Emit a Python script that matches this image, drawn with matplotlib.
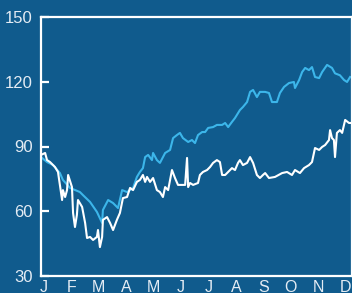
import matplotlib
matplotlib.use("Agg")
import matplotlib.pyplot as plt

# === data (month index, 0 = Jan) ===
blue_x = [-0.11, 0.11, 0.33, 0.58, 0.69, 0.95, 1.31, 1.42, 1.68, 1.93, 2.12, 2.15,
          2.34, 2.52, 2.70, 2.85, 3.03, 3.25, 3.39, 3.50, 3.61, 3.69, 3.80, 3.94,
          3.98, 4.12, 4.23, 4.42, 4.60, 4.71, 4.85, 4.96, 5.07, 5.26, 5.40, 5.51,
          5.62, 5.77, 5.88, 5.99, 6.17, 6.31, 6.50, 6.61, 6.72, 6.86, 6.97, 7.15,
          7.26, 7.41, 7.52, 7.63, 7.77, 7.88, 8.07, 8.21, 8.32, 8.50, 8.61, 8.76,
          8.94, 9.12, 9.16, 9.31, 9.42, 9.53, 9.67, 9.78, 9.89, 10.04, 10.15, 10.33,
          10.51, 10.62, 10.80, 10.95, 11.06, 11.17]
blue_y = [85.1, 82.8, 81.4, 77.7, 74.5, 70.8, 68.9, 67.5, 64.3, 59.7, 54.6, 60.6,
          65.2, 63.8, 61.5, 69.8, 68.9, 70.8, 75.9, 78.2, 80.0, 85.1, 86.1, 83.7,
          87.0, 83.7, 82.4, 87.0, 88.4, 93.9, 95.3, 96.3, 93.9, 92.1, 93.0, 91.6,
          95.3, 96.7, 96.7, 98.6, 99.0, 100.0, 100.0, 100.9, 99.0, 101.4, 103.2, 106.9,
          108.3, 110.6, 115.3, 116.2, 112.9, 115.3, 115.3, 114.8, 110.6, 110.6, 114.8, 117.6,
          119.4, 119.9, 117.1, 120.8, 124.5, 126.4, 125.4, 126.8, 122.2, 121.7, 124.5, 127.8,
          126.4, 123.9, 123.0, 120.8, 119.9, 122.2]

white_x = [-0.11, 0.04, 0.11, 0.22, 0.40, 0.51, 0.66, 0.69, 0.77, 0.84, 0.88, 1.02,
           1.06, 1.13, 1.20, 1.24, 1.39, 1.50, 1.57, 1.68, 1.79, 1.93, 1.97, 2.04,
           2.12, 2.15, 2.30, 2.41, 2.52, 2.66, 2.77, 2.88, 3.03, 3.14, 3.25, 3.39,
           3.50, 3.61, 3.69, 3.76, 3.87, 3.98, 4.12, 4.23, 4.34, 4.42, 4.53, 4.67,
           4.78, 4.89, 5.04, 5.15, 5.22, 5.26, 5.33, 5.44, 5.62, 5.69, 5.80, 5.95,
           6.06, 6.17, 6.31, 6.42, 6.50, 6.61, 6.72, 6.86, 6.97, 7.08, 7.15, 7.26,
           7.41, 7.52, 7.63, 7.77, 7.88, 7.99, 8.07, 8.21, 8.43, 8.69, 8.87, 9.05,
           9.16, 9.34, 9.49, 9.67, 9.78, 9.89, 10.04, 10.15, 10.26, 10.40, 10.44, 10.51,
           10.58, 10.62, 10.69, 10.80, 10.88, 10.99, 11.13, 11.17]
white_y = [86.1, 87.0, 83.7, 82.8, 80.5, 78.2, 65.2, 69.8, 66.6, 69.8, 76.8, 71.2,
           59.2, 52.7, 58.3, 65.2, 62.0, 54.6, 47.6, 48.1, 46.7, 48.1, 51.3, 43.4,
           48.1, 56.0, 57.3, 54.6, 51.3, 56.0, 59.2, 66.1, 66.6, 70.8, 69.8, 73.6,
           74.5, 76.8, 73.6, 75.9, 73.6, 75.4, 69.8, 68.9, 66.6, 71.2, 69.8, 79.1,
           75.4, 72.2, 72.2, 72.2, 84.7, 71.2, 73.1, 72.2, 73.1, 76.8, 78.2, 79.1,
           80.5, 82.4, 83.7, 82.8, 76.8, 76.8, 78.2, 80.0, 79.1, 82.4, 83.7, 81.4,
           82.4, 85.1, 82.4, 76.8, 75.4, 76.8, 77.7, 75.4, 75.9, 77.7, 78.2, 76.8,
           79.1, 77.7, 80.0, 81.4, 82.8, 89.3, 88.4, 89.8, 90.7, 93.0, 97.6, 93.9,
           93.0, 85.1, 96.3, 97.6, 96.3, 102.3, 100.9, 100.9]

months = ["J", "F", "M", "A", "M", "J", "J", "A", "S", "O", "N", "D"]
y_ticks = [30, 60, 90, 120, 150]

BG = "#105b8d"
BLUE = "#3cb6ea"
TEXT = "#e4ecf4"

plt.rcParams["font.family"] = ["Liberation Sans", "DejaVu Sans"]

fig = plt.figure(figsize=(3.52, 2.93), dpi=100, facecolor=BG)
ax = fig.add_axes([41 / 352, 17 / 293, 1 - 41 / 352, 259 / 293], facecolor=BG)

ax.plot(blue_x, blue_y, color=BLUE, lw=1.5)
ax.plot(white_x, white_y, color="white", lw=1.5)

ax.set_xlim(-0.11, 11.24)
ax.set_ylim(30, 150)

ax.set_yticks(y_ticks)
ax.set_yticklabels([str(v) for v in y_ticks])
ax.set_xticks(range(12))
ax.set_xticklabels(months)

for s in ax.spines.values():
    s.set_color("white")
    s.set_linewidth(1.6)

ax.tick_params(axis="y", direction="in", length=6, width=1.6, color="white",
               labelcolor=TEXT, labelsize=12, pad=6)
ax.tick_params(axis="x", length=0, labelcolor=TEXT, labelsize=11.5, pad=3)

fig.savefig("out.png", dpi=100, facecolor=BG)
